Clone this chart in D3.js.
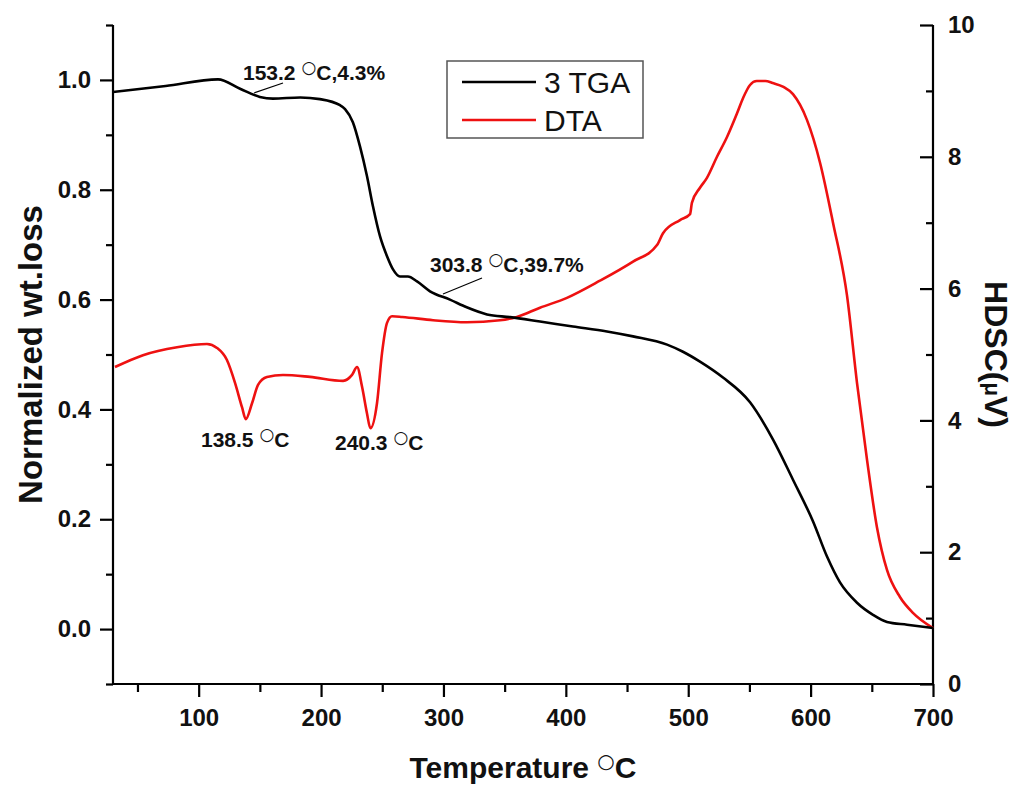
<!DOCTYPE html>
<html>
<head>
<meta charset="utf-8">
<script src="https://cdn.jsdelivr.net/npm/d3@7"></script>
<style>
  html, body { margin: 0; padding: 0; background: #fff; }
  svg { display: block; font-family: "Liberation Sans", Arial, sans-serif; }
</style>
</head>
<body>
<svg id="chart" width="1021" height="785"></svg>
<script>
// ---- data ----
const tgaTemp = [30, 73, 115.8, 133.8, 150, 160.7, 183, 199, 215.5, 219.6, 226, 231.8, 237.5, 242.4, 248.2, 253.9, 258.8, 264.5, 271, 278.4, 289, 305.3, 319, 335.6, 354.4, 378.9, 405.8, 433.6, 454.9, 482.7, 495.7, 509.6, 528.4, 550.5, 569.3, 585.6, 602, 613.4, 624, 637.9, 651, 662.4, 678.8, 700];
const tgaVal  = [0.978, 0.989, 1.001, 0.984, 0.969, 0.966, 0.968, 0.965, 0.954, 0.947, 0.923, 0.879, 0.825, 0.770, 0.715, 0.679, 0.655, 0.642, 0.642, 0.633, 0.615, 0.600, 0.586, 0.573, 0.568, 0.560, 0.551, 0.542, 0.533, 0.518, 0.505, 0.487, 0.458, 0.413, 0.345, 0.272, 0.196, 0.132, 0.085, 0.048, 0.026, 0.013, 0.008, 0.002];

const dtaTemp = [31.6, 54.5, 82.3, 106.8, 115, 123, 129.7, 135.4, 138.5, 143.6, 148.5, 155.8, 168.9, 191, 218, 225.3, 229.4, 233.5, 237.5, 240.3, 245.7, 249.8, 253.9, 258, 266.3, 291.5, 319, 346.2, 360, 378.9, 400.9, 427.9, 454.9, 474.5, 479.4, 493.3, 501.5, 503, 509.6, 515.3, 523.5, 531.7, 539.9, 545, 550.5, 556, 563, 569, 577.8, 585.6, 597, 607.7, 618.3, 629.7, 637.9, 646.1, 654.2, 662.4, 673, 683.6, 700];
const dtaVal  = [4.81, 4.99, 5.11, 5.16, 5.10, 4.92, 4.57, 4.20, 4.02, 4.26, 4.54, 4.66, 4.69, 4.66, 4.60, 4.69, 4.81, 4.51, 4.11, 3.88, 4.26, 5.02, 5.48, 5.58, 5.57, 5.52, 5.49, 5.52, 5.57, 5.71, 5.86, 6.12, 6.41, 6.66, 6.84, 7.04, 7.13, 7.30, 7.53, 7.68, 8.00, 8.30, 8.66, 8.90, 9.09, 9.15, 9.15, 9.12, 9.06, 8.95, 8.56, 7.91, 7.00, 5.90, 4.57, 3.40, 2.38, 1.73, 1.32, 1.08, 0.85];

const xTicks = [100, 200, 300, 400, 500, 600, 700];
const xMinorTicks = [50, 150, 250, 350, 450, 550, 650];
const yLeftTicks = [0.0, 0.2, 0.4, 0.6, 0.8, 1.0];
const yLeftMinor = [-0.1, 0.1, 0.3, 0.5, 0.7, 0.9, 1.1];
const yRightTicks = [0, 2, 4, 6, 8, 10];
const yRightMinor = [1, 3, 5, 7, 9];

const seriesNames = ["3 TGA", "DTA"];
const seriesColors = ["#000000", "#ee1111"];

const annotations = [
  {pre: "153.2 ", post: "C,4.3%"},
  {pre: "303.8 ", post: "C,39.7%"},
  {pre: "138.5 ", post: "C"},
  {pre: "240.3 ", post: "C"}
];

(function () {
// ---- layout ----
const svg = d3.select("#chart");
const pL = 113, pR = 933, pT = 25, pB = 684;

const x = d3.scaleLinear().domain([30, 700]).range([pL, pR]);
const yL = d3.scaleLinear().domain([-0.1, 1.1]).range([pB, pT]);
const yR = d3.scaleLinear().domain([0, 10]).range([pB, pT]);

function styleAxis(g) {
  g.selectAll("path.domain").attr("stroke", "#000").attr("stroke-width", 2.2);
  g.selectAll(".tick line").attr("stroke", "#000").attr("stroke-width", 2.2);
  g.selectAll(".tick text").attr("font-size", 24).attr("font-weight", "bold")
    .attr("fill", "#111").attr("font-family", "'Liberation Sans', Arial, sans-serif");
}

// bottom axis
const gx = svg.append("g").attr("transform", `translate(0,${pB})`)
  .call(d3.axisBottom(x).tickValues(xTicks).tickSize(13).tickPadding(12).tickFormat(d3.format("d")));
gx.select("path.domain").attr("d", `M${pL},0H${pR}`);
styleAxis(gx);
const gxm = svg.append("g").attr("transform", `translate(0,${pB})`)
  .call(d3.axisBottom(x).tickValues(xMinorTicks).tickSize(8).tickFormat(""));
gxm.select("path.domain").remove();
styleAxis(gxm);

// left axis
const gy = svg.append("g").attr("transform", `translate(${pL},0)`)
  .call(d3.axisLeft(yL).tickValues(yLeftTicks).tickSize(13).tickPadding(9).tickFormat(d3.format(".1f")));
gy.select("path.domain").attr("d", `M0,${pT}V${pB}`);
styleAxis(gy);
const gym = svg.append("g").attr("transform", `translate(${pL},0)`)
  .call(d3.axisLeft(yL).tickValues(yLeftMinor).tickSize(7).tickFormat(""));
gym.select("path.domain").remove();
styleAxis(gym);

// right axis (ticks inward, labels outside)
const gr = svg.append("g").attr("transform", `translate(${pR},0)`)
  .call(d3.axisRight(yR).tickValues(yRightTicks).tickSize(0).tickPadding(15).tickFormat(d3.format("d")));
gr.select("path.domain").attr("d", `M0,${pT}V${pB}`);
gr.selectAll(".tick").append("line").attr("x1", -13).attr("x2", 0);
styleAxis(gr);
const grm = svg.append("g").attr("transform", `translate(${pR},0)`)
  .call(d3.axisRight(yR).tickValues(yRightMinor).tickSize(0).tickFormat(""));
grm.select("path.domain").remove();
grm.selectAll(".tick").append("line").attr("x1", -7).attr("x2", 0);
styleAxis(grm);

// lines
const lineTGA = d3.line().x((d, i) => x(tgaTemp[i])).y(d => yL(d)).curve(d3.curveMonotoneX);
const lineDTA = d3.line().x((d, i) => x(dtaTemp[i])).y(d => yR(d)).curve(d3.curveMonotoneX);

svg.append("path").datum(dtaVal).attr("d", lineDTA)
  .attr("fill", "none").attr("stroke", seriesColors[1]).attr("stroke-width", 2.6).attr("stroke-linejoin", "round");
svg.append("path").datum(tgaVal).attr("d", lineTGA)
  .attr("fill", "none").attr("stroke", seriesColors[0]).attr("stroke-width", 2.6).attr("stroke-linejoin", "round");

// annotation leader lines
svg.append("line").attr("x1", 254).attr("y1", 93).attr("x2", 283).attr("y2", 83)
  .attr("stroke", "#000").attr("stroke-width", 1.2);
svg.append("line").attr("x1", 443).attr("y1", 294).attr("x2", 482).attr("y2", 278)
  .attr("stroke", "#000").attr("stroke-width", 1.2);

// annotation labels
const annPos = [[243, 80], [430, 272], [201, 447], [335, 450]];
annotations.forEach((a, i) => {
  const t = svg.append("text").attr("x", annPos[i][0]).attr("y", annPos[i][1])
    .attr("font-size", 21).attr("font-weight", "bold").attr("fill", "#111");
  t.append("tspan").text(a.pre);
  t.append("tspan").attr("font-weight", "normal").attr("font-size", 17)
    .attr("font-family", "DejaVu Sans").attr("dy", -7).text("○");
  t.append("tspan").attr("dy", 7).text(a.post);
});

// legend
const lg = svg.append("g");
lg.append("rect").attr("x", 447).attr("y", 61).attr("width", 196).attr("height", 77)
  .attr("fill", "#fff").attr("stroke", "#555").attr("stroke-width", 1.5);
seriesNames.forEach((n, i) => {
  const yy = 82 + i * 38;
  lg.append("line").attr("x1", 462).attr("x2", 536).attr("y1", yy).attr("y2", yy)
    .attr("stroke", seriesColors[i]).attr("stroke-width", 2.6);
  lg.append("text").attr("x", 544).attr("y", yy + 11).attr("font-size", 30)
    .attr("fill", "#111").text(n);
});

// axis titles
const xt = svg.append("text").attr("x", (pL + pR) / 2).attr("y", 778)
  .attr("text-anchor", "middle").attr("font-size", 30).attr("font-weight", "bold").attr("fill", "#111");
xt.append("tspan").text("Temperature ");
xt.append("tspan").attr("font-weight", "normal").attr("font-size", 20)
  .attr("font-family", "DejaVu Sans").attr("dy", -10).text("○");
xt.append("tspan").attr("dy", 10).text("C");

svg.append("text").attr("transform", `translate(42,${(pT + pB) / 2}) rotate(-90)`)
  .attr("text-anchor", "middle").attr("font-size", 33).attr("font-weight", "bold").attr("fill", "#111")
  .text("Normalized wt.loss");

const rt = svg.append("text").attr("transform", `translate(985,${(pT + pB) / 2}) rotate(90)`)
  .attr("text-anchor", "middle").attr("font-size", 32).attr("font-weight", "bold").attr("fill", "#111");
rt.append("tspan").text("HDSC(");
rt.append("tspan").attr("font-size", 22).text("μ");
rt.append("tspan").text("V)");
})();
</script>
</body>
</html>
